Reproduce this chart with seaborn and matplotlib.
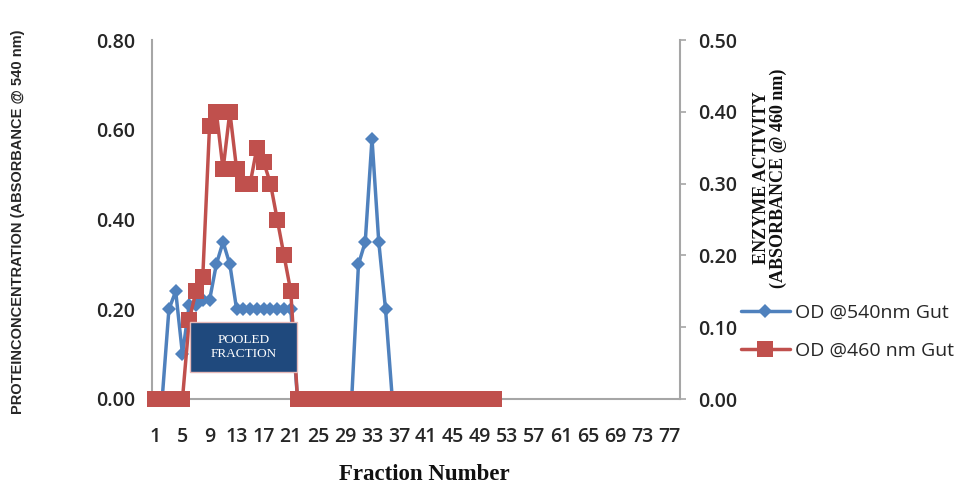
import matplotlib
matplotlib.use("Agg")
import numpy as np
import pandas as pd
import seaborn as sns
import matplotlib.pyplot as plt
from matplotlib.lines import Line2D
from matplotlib.patches import Rectangle

# Fractions collected from the column
fractions = list(range(1, 52))

# Protein concentration, OD @ 540 nm (left axis)
protein_od540 = [0.00, 0.00, 0.20, 0.24, 0.10, 0.21, 0.21, 0.22, 0.22, 0.30,
                 0.35, 0.30, 0.20, 0.20, 0.20, 0.20, 0.20, 0.20, 0.20, 0.20,
                 0.20, 0.00, 0.00, 0.00, 0.00, 0.00, 0.00, 0.00, 0.00, 0.00,
                 0.30, 0.35, 0.58, 0.35, 0.20, 0.00, 0.00, 0.00, 0.00, 0.00,
                 0.00, 0.00, 0.00, 0.00, 0.00, 0.00, 0.00, 0.00, 0.00, 0.00,
                 0.00]

# Enzyme activity, OD @ 460 nm (right axis)
enzyme_od460 = [0.00, 0.00, 0.00, 0.00, 0.00, 0.11, 0.15, 0.17, 0.38, 0.40,
                0.32, 0.40, 0.32, 0.30, 0.30, 0.35, 0.33, 0.30, 0.25, 0.20,
                0.15, 0.00, 0.00, 0.00, 0.00, 0.00, 0.00, 0.00, 0.00, 0.00,
                0.00, 0.00, 0.00, 0.00, 0.00, 0.00, 0.00, 0.00, 0.00, 0.00,
                0.00, 0.00, 0.00, 0.00, 0.00, 0.00, 0.00, 0.00, 0.00, 0.00,
                0.00]

n_categories = 78
x_ticks = list(range(1, 78, 4))
left_ticks = [0.00, 0.20, 0.40, 0.60, 0.80]
right_ticks = [0.00, 0.10, 0.20, 0.30, 0.40, 0.50]

label_540 = "OD @540nm Gut"
label_460 = "OD @460 nm Gut"

BLUE = "#4F81BD"
RED = "#C0504D"
AXIS_GREY = "#A6A6A6"
TEXT = "#262626"

DIAMOND = 7.2
SQUARE = 11

df = pd.DataFrame({"fraction": fractions,
                   "od540": protein_od540,
                   "od460": enzyme_od460})

sns.set_theme(style="white")
plt.rcParams["font.family"] = ["Open Sans", "DejaVu Sans"]

fig = plt.figure(figsize=(9.6, 4.91), dpi=100)
ax = fig.add_axes([152 / 960, 1 - 399 / 491, 528 / 960, 359 / 491])
ax2 = ax.twinx()

sns.lineplot(data=df, x="fraction", y="od540", ax=ax, color=BLUE,
             linewidth=2.5, marker="D", markersize=DIAMOND,
             mec=BLUE, mew=0, legend=False)
sns.lineplot(data=df, x="fraction", y="od460", ax=ax2, color=RED,
             linewidth=2.5, marker="s", markersize=SQUARE,
             mec=RED, mew=0, legend=False)
# markers sitting on the baseline stay whole
for line in ax.lines + ax2.lines:
    line.set_clip_on(False)

ax.set_xlim(0.5, n_categories + 0.5)
ax.set_ylim(0, 0.8)
ax2.set_ylim(0, 0.5)
ax.set_xticks(x_ticks)
ax.set_xticklabels([str(t) for t in x_ticks])
ax.set_yticks(left_ticks)
ax.set_yticklabels([f"{t:.2f}" for t in left_ticks])
ax2.set_yticks(right_ticks)
ax2.set_yticklabels([f"{t:.2f}" for t in right_ticks])

for a in (ax, ax2):
    for s in a.spines.values():
        s.set_visible(False)
ax.spines["left"].set_visible(True)
ax.spines["bottom"].set_visible(True)
ax2.spines["right"].set_visible(True)
for s in (ax.spines["left"], ax.spines["bottom"], ax2.spines["right"]):
    s.set_color(AXIS_GREY)
    s.set_linewidth(1.5)

ax.tick_params(axis="y", length=0, pad=12, labelsize=14, labelcolor=TEXT)
ax.tick_params(axis="x", length=0, pad=20, labelsize=14, labelcolor=TEXT)
ax2.tick_params(axis="y", direction="out", length=4, width=1.2,
                color=AXIS_GREY, pad=9, labelsize=14, labelcolor=TEXT)
for lab in ax.get_xticklabels() + ax.get_yticklabels() + ax2.get_yticklabels():
    lab.set_fontweight("semibold")
ax.grid(False)
ax2.grid(False)
ax.set_ylabel("")
ax2.set_ylabel("")
ax.set_xlabel("")

fig.text(424 / 960, 1 - 474 / 491, "Fraction Number",
         family=["Liberation Serif", "DejaVu Serif"], fontweight="bold",
         fontsize=16.5, color="#111111", ha="center", va="center")

# Pooled fraction marker box
box = Rectangle(((190 - 152) / 528, (399 - 372) / 359),
                (297 - 190) / 528, (372 - 322) / 359,
                transform=ax2.transAxes, facecolor="#1F497D",
                edgecolor="#E6B9B8", linewidth=1.0, zorder=10)
ax2.add_patch(box)
ax2.text((243.5 - 152) / 528, (399 - 347) / 359, "POOLED\nFRACTION",
         transform=ax2.transAxes, ha="center", va="center", color="white",
         family=["Liberation Serif", "DejaVu Serif"], fontsize=9.5,
         linespacing=1.15, zorder=11)

fig.text(18 / 960, 1 - 222 / 491,
         "PROTEINCONCENTRATION (ABSORBANCE @ 540 nm)",
         rotation=90, ha="center", va="center", fontsize=10.5,
         fontweight="bold", family=["Liberation Sans", "DejaVu Sans"],
         color=TEXT)
fig.text(770 / 960, 1 - 178 / 491,
         "ENZYME ACTIVITY\n(ABSORBANCE @ 460 nm)",
         rotation=90, ha="center", va="center", fontsize=13,
         fontweight="bold", family=["Liberation Serif", "DejaVu Serif"],
         color="#111111", linespacing=1.0, multialignment="center")

handles = [
    Line2D([], [], color=BLUE, linewidth=2.5, marker="D", markersize=DIAMOND,
           markeredgewidth=0),
    Line2D([], [], color=RED, linewidth=2.5, marker="s", markersize=SQUARE,
           markeredgewidth=0),
]
fig.legend(handles, [label_540, label_460], loc="center left",
           bbox_to_anchor=(741 / 960, 1 - 332 / 491), frameon=False,
           fontsize=14, handlelength=2.5, handletextpad=0.3,
           labelspacing=1.0, borderpad=0, borderaxespad=0,
           labelcolor=TEXT)

fig.savefig("out.png", dpi=100)
